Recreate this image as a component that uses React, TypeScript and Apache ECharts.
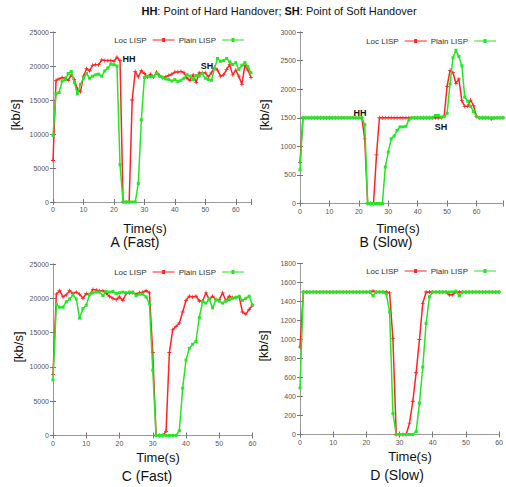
import React, { useEffect, useRef } from "react";
import * as echarts from "echarts";

// ---- Data (kb/s per second, t = index in seconds) ----
const SERIES_NAMES = ["Loc LISP", "Plain LISP"];
const PANEL_TITLES = ["A (Fast)", "B (Slow)", "C (Fast)", "D (Slow)"];
const X_MAX = [65, 69, 60, 60];
const Y_MAX = [25000, 3000, 25000, 1800];
const Y_INTERVAL = [5000, 500, 5000, 200];

const locA = [6100, 17900, 18100, 18300, 18200, 17900, 18700, 18000, 16600, 16200,
  18500, 19600, 19300, 20100, 20200, 20200, 20900, 20800, 20800, 20800,
  20700, 21300, 20800, 0, 0, 0, 15000, 19200, 18400, 19300,
  18900, 18400, 18800, 18400, 19100, 18600, 18300, 18400, 18600, 18800,
  19100, 19100, 19200, 19000, 18200, 17900, 18700, 17600, 19000, 19000,
  19000, 18400, 19000, 19800, 19400, 18500, 18700, 19500, 20200, 18700,
  19400, 18500, 17300, 20100, 19400, 18300];
const plainA = [9800, 15900, 16100, 17800, 18000, 18900, 19200, 17600, 15900, 17300,
  18200, 18900, 18200, 18500, 18700, 18800, 18500, 19300, 19700, 20300,
  20200, 20000, 5500, 0, 0, 0, 0, 0, 2700, 12100,
  18300, 18500, 18400, 18500, 18900, 18500, 18300, 18100, 18000, 17800,
  18000, 17700, 17900, 18200, 18700, 18500, 18000, 18600, 18500, 18900,
  18200, 18000, 17900, 19600, 21100, 20700, 20800, 21100, 20600, 20200,
  20500, 19500, 20100, 20500, 19900, 19000];

const locB = [720, 1500, 1500, 1500, 1500, 1500, 1500, 1500, 1500, 1500,
  1500, 1500, 1500, 1500, 1500, 1500, 1500, 1500, 1500, 1500,
  1500, 1500, 1130, 0, 0, 0, 850, 1500, 1500, 1500,
  1500, 1500, 1500, 1500, 1500, 1500, 1500, 1500, 1500, 1500,
  1500, 1500, 1500, 1500, 1500, 1500, 1500, 1500, 1500, 1530,
  2050, 2330, 2290, 2100, 2180, 1800, 1700, 1700, 1810, 1710,
  1520, 1500, 1500, 1500, 1500, 1480, 1490, 1500, 1500, 1500];
const plainB = [590, 1500, 1500, 1500, 1500, 1500, 1500, 1500, 1500, 1500,
  1500, 1500, 1500, 1500, 1500, 1500, 1500, 1500, 1500, 1500,
  1500, 1500, 1380, 0, 0, 0, 0, 0, 0, 640,
  900, 1130, 1180, 1280, 1340, 1340, 1350, 1460, 1500, 1500,
  1500, 1500, 1500, 1500, 1500, 1500, 1540, 1540, 1510, 1520,
  1580, 2090, 2550, 2680, 2570, 2410, 1860, 1790, 1700, 1610,
  1520, 1500, 1500, 1500, 1500, 1500, 1500, 1500, 1500, 1500];

const locC = [8900, 20600, 21100, 20200, 20500, 21100, 20700, 20900, 20600, 20000,
  20700, 20500, 21300, 21200, 21100, 21100, 20700, 20300, 20000, 19800,
  20200, 19700, 20700, 20800, 20800, 20600, 20800, 20900, 21100, 20800,
  12100, 0, 0, 0, 600, 12100, 15400, 15900, 16400, 18000,
  19700, 20300, 20200, 20300, 19600, 19600, 20800, 19800, 20300, 19800,
  19800, 20800, 19600, 20300, 20100, 20100, 20200, 18000, 17700, 18400,
  19000];
const plainC = [8100, 19100, 18700, 18700, 19500, 19900, 20500, 19900, 17100, 18500,
  19000, 20600, 20800, 20900, 20900, 20400, 21000, 20900, 21000, 20700,
  20800, 20900, 20800, 20900, 20900, 20400, 20600, 20600, 20200, 19200,
  9500, 0, 0, 0, 0, 0, 0, 0, 700, 6900,
  11000, 12700, 13300, 13700, 17200, 19500, 19300, 19900, 18600, 19800,
  19600, 19300, 19600, 19800, 20000, 20100, 20300, 19700, 20000, 20300,
  19000];

const locD = [920, 1500, 1500, 1500, 1500, 1500, 1500, 1500, 1500, 1500,
  1500, 1500, 1500, 1500, 1500, 1500, 1500, 1500, 1500, 1500,
  1500, 1500, 1510, 1500, 1500, 1500, 1500, 1490, 1010, 0,
  0, 0, 0, 120, 350, 650, 1000, 1380, 1500, 1500,
  1500, 1500, 1500, 1500, 1500, 1470, 1470, 1500, 1500, 1500,
  1500, 1500, 1500, 1500, 1500, 1500, 1500, 1500, 1500, 1500,
  1500];
const plainD = [490, 1500, 1500, 1500, 1500, 1500, 1500, 1500, 1500, 1500,
  1500, 1500, 1500, 1500, 1500, 1500, 1500, 1500, 1500, 1500,
  1500, 1500, 1460, 1500, 1500, 1500, 1480, 1290, 220, 0,
  0, 0, 0, 0, 0, 30, 330, 710, 1170, 1450,
  1500, 1500, 1500, 1500, 1500, 1500, 1500, 1510, 1460, 1500,
  1500, 1500, 1500, 1500, 1500, 1500, 1500, 1500, 1500, 1500,
  1500];

const LOC = [locA, locB, locC, locD];
const PLAIN = [plainA, plainB, plainC, plainD];

// ---- Layout ----
const GRIDS = [
  { left: 53, top: 32, width: 198, height: 170 },
  { left: 300, top: 32, width: 204, height: 171.5 },
  { left: 53, top: 264, width: 199.5, height: 171.5 },
  { left: 300, top: 263.5, width: 203, height: 171 },
];
const LEGEND_POS = [
  { right: 262, top: 36 },
  { right: 10, top: 37 },
  { right: 262, top: 268 },
  { right: 10, top: 267 },
];
const TIME_LABEL_POS = [[145, 228], [398, 228], [158, 457], [410, 456]];
const PANEL_TITLE_POS = [[135, 242], [386, 242], [147, 476], [397, 475]];
const YNAME_POS = [[15, 115], [264, 115], [18, 347], [263, 346]];

const RED = "#ff2424";
const GREEN = "#22e822";
const FONT = '"Liberation Sans", Arial, sans-serif';
const PLUS = "path://M4 0H6V4H10V6H6V10H4V6H0V4H4Z";
const LEGEND_ICON = "path://M0 1.4H22V2.6H0Z M9.5 0H12.5V4H9.5Z";

export default function App() {
  const ref = useRef<HTMLDivElement>(null);
  useEffect(() => {
    if (!ref.current) return;
    const chart = echarts.init(ref.current, undefined, { renderer: "svg" });
    const axisLineStyle = { lineStyle: { color: "#9a9a9a", width: 1 } };
    const xAxis: any[] = [];
    const yAxis: any[] = [];
    const series: any[] = [];
    for (let i = 0; i < 4; i++) {
      const common = {
        gridIndex: i,
        type: "value",
        min: 0,
        splitLine: { show: false },
        axisLine: { show: true, ...axisLineStyle },
        axisTick: { show: true, inside: true, length: 3, lineStyle: { color: "#777" } },
      };
      xAxis.push({
        ...common, position: "bottom", max: X_MAX[i], interval: 10,
        axisLabel: {
          fontSize: 7, color: "#555", margin: 4, fontFamily: FONT,
          formatter: (v: number) => (v % 10 === 0 ? String(v) : ""),
        },
      });
      xAxis.push({ ...common, position: "top", max: X_MAX[i], interval: 10, axisLabel: { show: false } });
      yAxis.push({
        ...common, position: "left", max: Y_MAX[i], interval: Y_INTERVAL[i],
        axisLabel: {
          fontSize: 7, color: "#555", margin: 4, fontFamily: FONT,
          formatter: (v: number) => String(v),
        },
      });
      yAxis.push({ ...common, position: "right", max: Y_MAX[i], interval: Y_INTERVAL[i], axisLabel: { show: false } });
      series.push({
        name: SERIES_NAMES[0], type: "line", xAxisIndex: 2 * i, yAxisIndex: 2 * i,
        data: LOC[i].map((v, t) => [t, v]),
        symbol: PLUS, symbolSize: 4, showSymbol: true,
        lineStyle: { color: RED, width: 1.5 }, itemStyle: { color: RED },
        z: 2,
      });
      series.push({
        name: SERIES_NAMES[1], type: "line", xAxisIndex: 2 * i, yAxisIndex: 2 * i,
        data: PLAIN[i].map((v, t) => [t, v]),
        symbol: "rect", symbolSize: 3, showSymbol: true,
        lineStyle: { color: GREEN, width: 1.5 }, itemStyle: { color: GREEN },
        z: 3,
      });
    }
    const legend = LEGEND_POS.map((p) => ({
      ...p,
      data: SERIES_NAMES.map((n) => ({ name: n, icon: LEGEND_ICON })),
      align: "right", orient: "horizontal",
      itemWidth: 22, itemHeight: 4, itemGap: 4, padding: 0,
      selectedMode: false,
      itemStyle: { borderWidth: 0 },
      lineStyle: { width: 0 },
      textStyle: { fontSize: 8, color: "#333", fontFamily: FONT, padding: [0, 1, 0, 0] },
    }));

    const graphic: any[] = [];
    graphic.push({
      type: "text", x: 279, y: 11,
      style: {
        text: "{b|HH}: Point of Hard Handover; {b|SH}: Point of Soft Handover",
        font: `11px ${FONT}`, fill: "#111", align: "center", verticalAlign: "middle",
        rich: { b: { font: `bold 11px ${FONT}`, fill: "#111" } },
      },
    });
    for (let i = 0; i < 4; i++) {
      graphic.push({
        type: "text", x: TIME_LABEL_POS[i][0], y: TIME_LABEL_POS[i][1],
        style: { text: "Time(s)", font: `13px ${FONT}`, fill: "#111", align: "center", verticalAlign: "middle" },
      });
      graphic.push({
        type: "text", x: PANEL_TITLE_POS[i][0], y: PANEL_TITLE_POS[i][1],
        style: { text: PANEL_TITLES[i], font: `14px ${FONT}`, fill: "#111", align: "center", verticalAlign: "middle" },
      });
      graphic.push({
        type: "text", x: YNAME_POS[i][0], y: YNAME_POS[i][1], rotation: Math.PI / 2,
        style: { text: "[kb/s]", font: `13px ${FONT}`, fill: "#111", align: "center", verticalAlign: "middle" },
      });
    }
    const marks = [
      ["HH", 129, 59], ["SH", 207, 66], ["HH", 360, 113], ["SH", 441, 127],
    ];
    marks.forEach(([t, x, y]) => {
      graphic.push({
        type: "text", x, y,
        style: { text: t, font: `bold 9px ${FONT}`, fill: "#111", align: "center", verticalAlign: "middle" },
      });
    });

    chart.setOption({
      animation: false,
      backgroundColor: "#fff",
      grid: GRIDS.map((g) => ({ ...g, containLabel: false })),
      xAxis, yAxis, series, legend, graphic,
    });
    return () => chart.dispose();
  }, []);
  return (
    <div
      ref={ref}
      style={{ position: "fixed", left: 0, top: 0, width: 506, height: 487 }}
    />
  );
}
